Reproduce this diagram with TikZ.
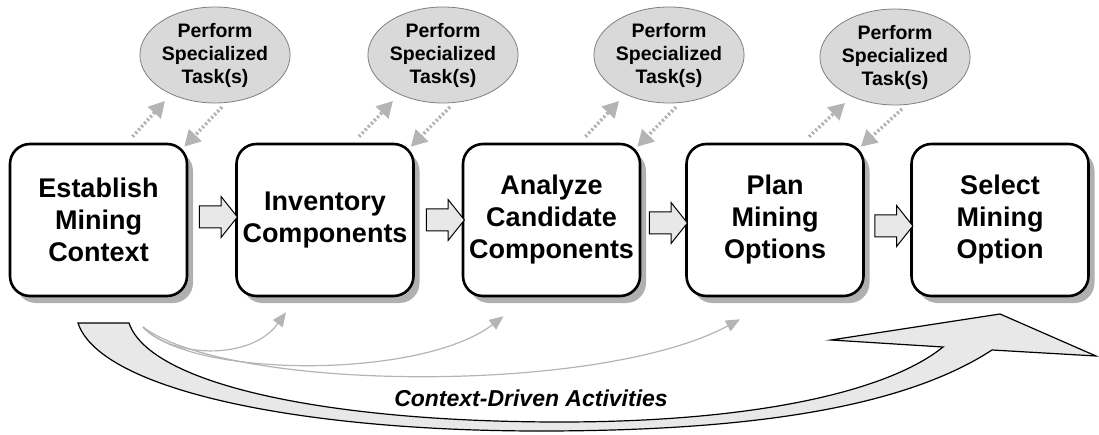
\documentclass[tikz,border=0pt]{standalone}
\usepackage{fontspec}
\setmainfont{Liberation Sans}
\usetikzlibrary{shapes.geometric,shapes.arrows,shadows,arrows.meta,calc}
\definecolor{shadowgray}{RGB}{176,176,176}
\definecolor{ellfill}{RGB}{217,217,217}
\definecolor{ellline}{RGB}{128,128,128}
\definecolor{arrfill}{RGB}{232,232,232}
\definecolor{linkgray}{RGB}{180,180,180}
\begin{document}
\begin{tikzpicture}[x=1pt,y=-1pt,
  stepbox/.style={draw, line width=2.6pt, rounded corners=20pt, fill=white,
    minimum width=177pt, minimum height=152pt, inner sep=0pt, align=center,
    font=\fontsize{27}{32}\selectfont\bfseries,
    drop shadow={shadow xshift=6pt, shadow yshift=-7pt, fill=shadowgray, opacity=1}},
  taskell/.style={ellipse, draw=ellline, line width=0.8pt, fill=ellfill,
    minimum width=144pt, minimum height=96pt, inner sep=0pt, align=center,
    font=\fontsize{19.5}{23}\selectfont\bfseries},
  blockarr/.style={single arrow, draw, line width=1pt, fill=arrfill,
    minimum height=38pt, inner xsep=0pt, inner ysep=10.5pt,
    single arrow head extend=9.5pt, single arrow tip angle=103},
  dotarrow/.style={draw=linkgray, line width=3.5pt, dash pattern=on 2.2pt off 2.2pt,
    -{Triangle[length=16pt,width=17pt]}},
  thinarrow/.style={draw=linkgray, line width=1.2pt, -{Triangle[length=14pt,width=12pt]}},
  bigarrow/.style={draw=black, line width=1.2pt, fill=arrfill, line join=miter}
]
\useasboundingbox (0,0) rectangle (1099,435);

% big context arrow
\draw[bigarrow] (78,323) -- (129,323)
  .. controls (150,385) and (330,422) .. (560,422)
  .. controls (760,422) and (890,390) .. (943,347)
  -- (831,340) -- (1000,314) -- (1096,356) -- (992,350)
  .. controls (900,410) and (740,431) .. (540,431)
  .. controls (300,431) and (100,390) .. (78,323) -- cycle;
\node[font=\fontsize{23}{27}\selectfont\bfseries\itshape] (ctx) at (531,398) {Context-Driven Activities};

% step boxes
\node[stepbox] (b1) at (98.5,220) {Establish\\Mining\\Context};
\node[stepbox] (b2) at (325,220) {Inventory\\Components};
\node[stepbox] (b3) at (551.5,220) {Analyze\\Candidate\\Components};
\node[stepbox] (b4) at (775,220) {Plan\\Mining\\Options};
\node[stepbox] (b5) at (1000,220) {Select\\Mining\\Option};

% block arrows between boxes
\node[blockarr] (a1) at (214,217) {};
\node[blockarr] (a2) at (441,220) {};
\node[blockarr] (a3) at (664,223) {};
\node[blockarr] (a4) at (889.5,226) {};

% specialized task ellipses
\node[taskell] (e1) at (215,55) {Perform\\Specialized\\Task(s)};
\node[taskell] (e2) at (443,55) {Perform\\Specialized\\Task(s)};
\node[taskell] (e3) at (669,55) {Perform\\Specialized\\Task(s)};
\node[taskell] (e4) at (895,57) {Perform\\Specialized\\Task(s)};

\foreach \i in {1,...,4} {
  \draw[dotarrow] ($(b\i.north)+(34,-6)$) -- ($(e\i.center)+(-50,46)$);
  \draw[dotarrow] ($(e\i.center)+(7,52)$) -- ($(b\i.north east)+(-4,4)$);
}

% thin context-driven arrows
\coordinate (src) at (143,327);
\draw[thinarrow] (src) .. controls (170,357) and (250,362) .. ($(b2.south)+(-39,15)$);
\draw[thinarrow] (src) .. controls (190,378) and (420,380) .. ($(b3.south)+(-48,19)$);
\draw[thinarrow] (src) .. controls (230,392) and (600,395) .. ($(b4.south)+(-35,22)$);
\end{tikzpicture}
\end{document}
